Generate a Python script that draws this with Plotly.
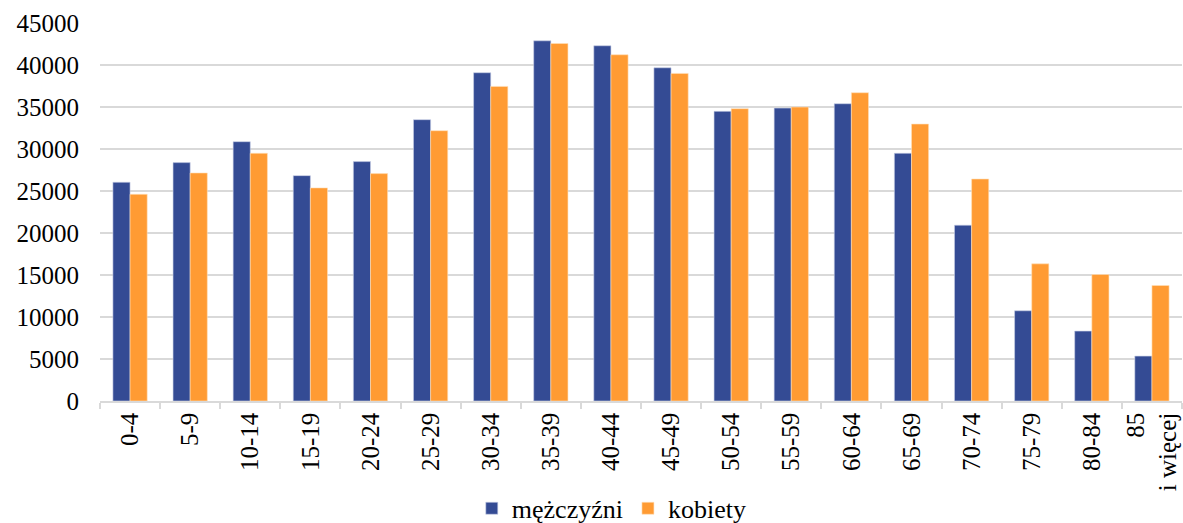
import plotly.graph_objects as go

categories = ["0-4", "5-9", "10-14", "15-19", "20-24", "25-29", "30-34", "35-39",
              "40-44", "45-49", "50-54", "55-59", "60-64", "65-69", "70-74",
              "75-79", "80-84", "85<br>i więcej"]
men = [26040, 28380, 30870, 26830, 28500, 33490, 39080, 42880, 42290, 39670,
       34480, 34870, 35390, 29490, 20930, 10740, 8320, 5350]
women = [24610, 27150, 29490, 25370, 27070, 32180, 37450, 42560, 41220, 39000,
         34800, 34990, 36700, 32970, 26430, 16330, 15060, 13750]
y_ticks = [0, 5000, 10000, 15000, 20000, 25000, 30000, 35000, 40000, 45000]
y_ticktext = [str(v) for v in y_ticks]

FONT = "Liberation Serif, Times New Roman, serif"

fig = go.Figure()
fig.add_trace(go.Bar(x=categories, y=men, name="mężczyźni",
                     marker=dict(color="#344B94", line=dict(color="#C9D0E6", width=0.6))))
fig.add_trace(go.Bar(x=categories, y=women, name="kobiety",
                     marker=dict(color="#FF9B33", line=dict(color="#FFE0BC", width=0.6))))

fig.update_layout(
    template="none",
    width=1183, height=523,
    margin=dict(l=100, r=1, t=23, b=122, autoexpand=False),
    paper_bgcolor="white", plot_bgcolor="white",
    barmode="group", bargap=0.43, bargroupgap=0,
    font=dict(family=FONT, size=25, color="black"),
    legend=dict(orientation="h", x=0.473, xanchor="center", y=-0.284, yanchor="middle",
                font=dict(family=FONT, size=26), itemwidth=30, tracegroupgap=0,
                bgcolor="rgba(0,0,0,0)"),
    xaxis=dict(type="category", tickangle=-90, showgrid=False, showline=True,
               linecolor="#D9D9D9", linewidth=1.5, ticks="outside", tickson="boundaries",
               ticklen=6, tickcolor="#D9D9D9", tickwidth=1.5, automargin=False,
               tickfont=dict(family=FONT, size=25)),
    yaxis=dict(range=[0, 45000], tickvals=y_ticks, ticktext=y_ticktext, showgrid=True,
               gridcolor="#D9D9D9", gridwidth=1.5, zeroline=False, showline=False,
               ticks="", automargin=False, tickfont=dict(family=FONT, size=25),
               ticklabelstandoff=20),
)

fig.write_html("out.html", config={"displayModeBar": False},
               post_script="document.body.style.margin='0';document.body.style.overflow='hidden';")
